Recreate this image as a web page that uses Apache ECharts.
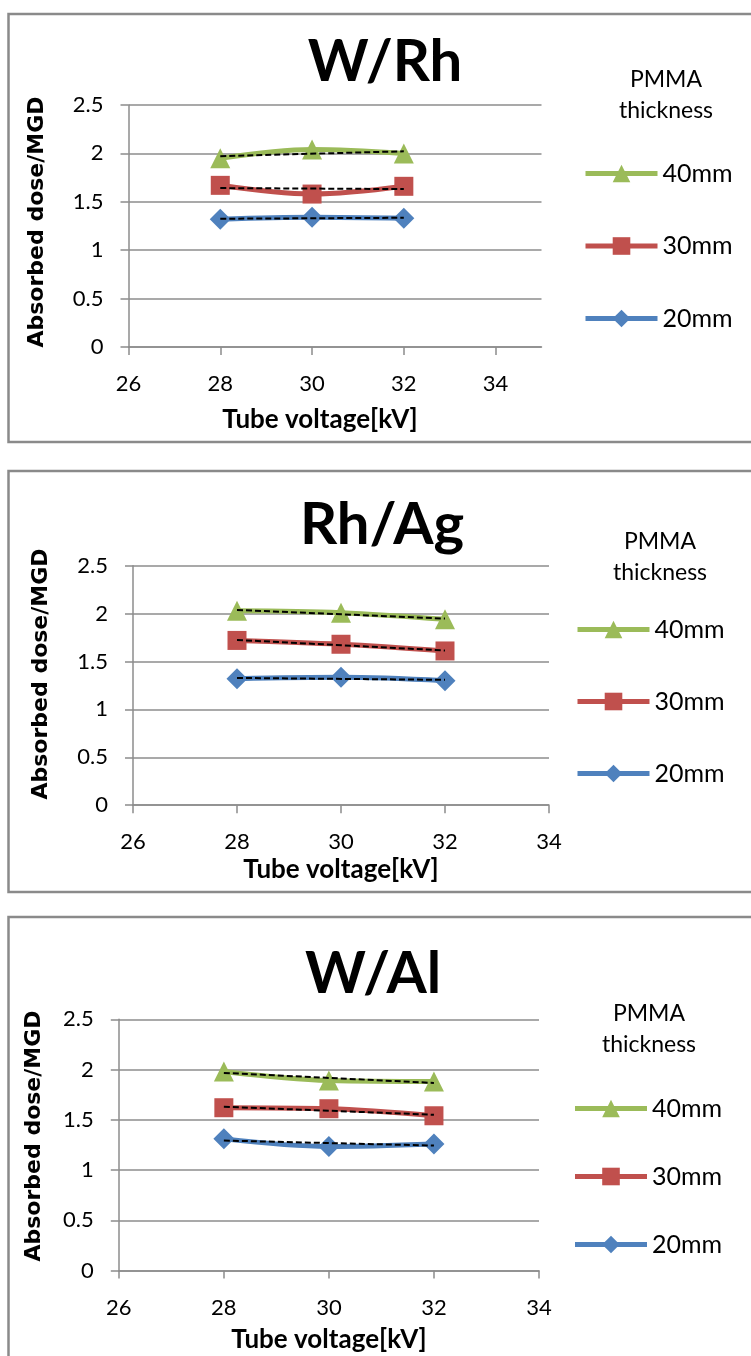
<!DOCTYPE html>
<html>
<head>
<meta charset="utf-8">
<script src="https://cdn.jsdelivr.net/npm/echarts@6/dist/echarts.min.js"></script>
<style>
  html, body { margin: 0; padding: 0; background: #fff; }
  #chart { width: 751px; height: 1356px; }
</style>
</head>
<body>
<div id="chart"></div>
<script>
// Tube voltages (kV) at which dose was measured
const voltages = [28, 30, 32];
const xTickValues = [26, 28, 30, 32, 34];
const thicknessLabels = ['40mm', '30mm', '20mm'];
const panelTitles = ['W/Rh', 'Rh/Ag', 'W/Al'];

// Mean glandular dose per PMMA thickness, W/Rh target/filter
const wRh40 = [1.95, 2.04, 2.00];
const wRh30 = [1.67, 1.58, 1.66];
const wRh20 = [1.32, 1.34, 1.33];
// Rh/Ag
const rhAg40 = [2.03, 2.01, 1.94];
const rhAg30 = [1.72, 1.68, 1.61];
const rhAg20 = [1.32, 1.335, 1.30];
// W/Al
const wAl40 = [1.98, 1.89, 1.88];
const wAl30 = [1.62, 1.61, 1.54];
const wAl20 = [1.31, 1.235, 1.26];

const panelData = [
  [wRh40, wRh30, wRh20],
  [rhAg40, rhAg30, rhAg20],
  [wAl40, wAl30, wAl20]
];

const colors = ['#9BBB59', '#C0504D', '#4F81BD'];
const symbols = ['triangle', 'rect', 'diamond'];
const symbolSizes = [20, 19, 21];

// Per-panel layout (pixels)
const layout = [
  { box: [8.5, 14, 800, 428], grid: [128.5, 105, 413, 242], xMax: 35,
    title: [385, 62], yName: [37, 222], xName: [320, 420],
    legendTitle: [666, 95.5], legend: [578, 167, 69.5] },
  { box: [8.5, 471, 800, 421], grid: [133, 565.7, 416, 239.5], xMax: 34,
    title: [382, 525], yName: [41, 674], xName: [341, 870],
    legendTitle: [660, 557], legend: [570, 623, 69] },
  { box: [8.5, 917, 800, 500], grid: [118.8, 1019.3, 420.2, 251.2], xMax: 34,
    title: [373, 974], yName: [34, 1136], xName: [329, 1340],
    legendTitle: [649, 1029], legend: [567.5, 1102, 65] }
];

// Least-squares linear trend over the measured voltages
function linearTrend(xs, ys) {
  const n = xs.length;
  const mx = xs.reduce((a, b) => a + b, 0) / n;
  const my = ys.reduce((a, b) => a + b, 0) / n;
  let sxy = 0, sxx = 0;
  for (let i = 0; i < n; i++) {
    sxy += (xs[i] - mx) * (ys[i] - my);
    sxx += (xs[i] - mx) * (xs[i] - mx);
  }
  const slope = sxy / sxx;
  const icpt = my - slope * mx;
  const x0 = xs[0], x1 = xs[n - 1];
  return [[x0, icpt + slope * x0], [x1, icpt + slope * x1]];
}

const gridColor = '#8c8c8c';
const labelFont = 'Lato, "Open Sans", sans-serif';

const grids = [], xAxes = [], yAxes = [], series = [], legends = [], graphics = [];

layout.forEach((L, p) => {
  grids.push({ left: L.grid[0], top: L.grid[1], width: L.grid[2], height: L.grid[3], containLabel: false });

  xAxes.push({
    type: 'value', gridIndex: p, min: 26, max: L.xMax, interval: 2,
    axisLine: { show: true, onZero: false, lineStyle: { color: gridColor, width: 1.5 } },
    axisTick: { show: true, length: 8, lineStyle: { color: gridColor, width: 1.5 }, customValues: xTickValues },
    axisLabel: { margin: 26, fontFamily: labelFont, fontSize: 22, color: '#000', customValues: xTickValues },
    splitLine: { show: false }
  });

  yAxes.push({
    type: 'value', gridIndex: p, min: 0, max: 2.5, interval: 0.5,
    axisLine: { show: true, onZero: false, lineStyle: { color: gridColor, width: 1.5 } },
    axisTick: { show: true, length: 8, lineStyle: { color: gridColor, width: 1.5 } },
    axisLabel: { margin: 25, fontFamily: labelFont, fontSize: 22, color: '#000' },
    splitLine: { show: true, lineStyle: { color: gridColor, width: 1.5 } }
  });

  panelData[p].forEach((vals, k) => {
    series.push({
      name: thicknessLabels[k], type: 'line', xAxisIndex: p, yAxisIndex: p,
      data: voltages.map((v, i) => [v, vals[i]]),
      smooth: 0.35, symbol: symbols[k], symbolSize: symbolSizes[k],
      lineStyle: { color: colors[k], width: 5 },
      itemStyle: { color: colors[k] },
      z: 2, silent: true, animation: false
    });
  });
  panelData[p].forEach((vals) => {
    series.push({
      type: 'line', xAxisIndex: p, yAxisIndex: p,
      data: linearTrend(voltages, vals),
      symbol: 'none', smooth: false,
      lineStyle: { color: '#000', width: 2, type: [6, 3] },
      z: 5, silent: true, animation: false
    });
  });

  const itemH = 22;
  legends.push({
    orient: 'vertical', left: L.legend[0], top: L.legend[1] - itemH / 2,
    itemWidth: 72, itemHeight: itemH, itemGap: L.legend[2] - itemH,
    selectedMode: false, data: thicknessLabels,
    lineStyle: { width: 5 },
    textStyle: { fontFamily: labelFont, fontSize: 25, color: '#000', lineHeight: itemH }
  });

  graphics.push({
    type: 'rect', silent: true, z: 0,
    shape: { x: L.box[0], y: L.box[1], width: L.box[2], height: L.box[3] },
    style: { fill: 'none', stroke: '#8a8a8a', lineWidth: 2.5 }
  });
  graphics.push({
    type: 'text', silent: true, x: L.title[0], y: L.title[1],
    style: { text: panelTitles[p], font: 'bold 58px ' + labelFont, fill: '#000', textAlign: 'center', textVerticalAlign: 'middle' }
  });
  graphics.push({
    type: 'text', silent: true, x: L.yName[0], y: L.yName[1], rotation: Math.PI / 2,
    style: { text: 'Absorbed dose/MGD', font: 'bold 22px "DejaVu Sans", sans-serif', fill: '#000', textAlign: 'center', textVerticalAlign: 'middle' }
  });
  graphics.push({
    type: 'text', silent: true, x: L.xName[0], y: L.xName[1],
    style: { text: 'Tube voltage[kV]', font: 'bold 26px ' + labelFont, fill: '#000', textAlign: 'center', textVerticalAlign: 'middle' }
  });
  graphics.push({
    type: 'text', silent: true, x: L.legendTitle[0], y: L.legendTitle[1],
    style: { text: 'PMMA\nthickness', font: '23px ' + labelFont, lineHeight: 31, fill: '#000', textAlign: 'center', textVerticalAlign: 'middle' }
  });
});

const chart = echarts.init(document.getElementById('chart'), null, { renderer: 'canvas' });
chart.setOption({
  animation: false,
  backgroundColor: '#fff',
  grid: grids,
  xAxis: xAxes,
  yAxis: yAxes,
  legend: legends,
  series: series,
  graphic: graphics
});
</script>
</body>
</html>
